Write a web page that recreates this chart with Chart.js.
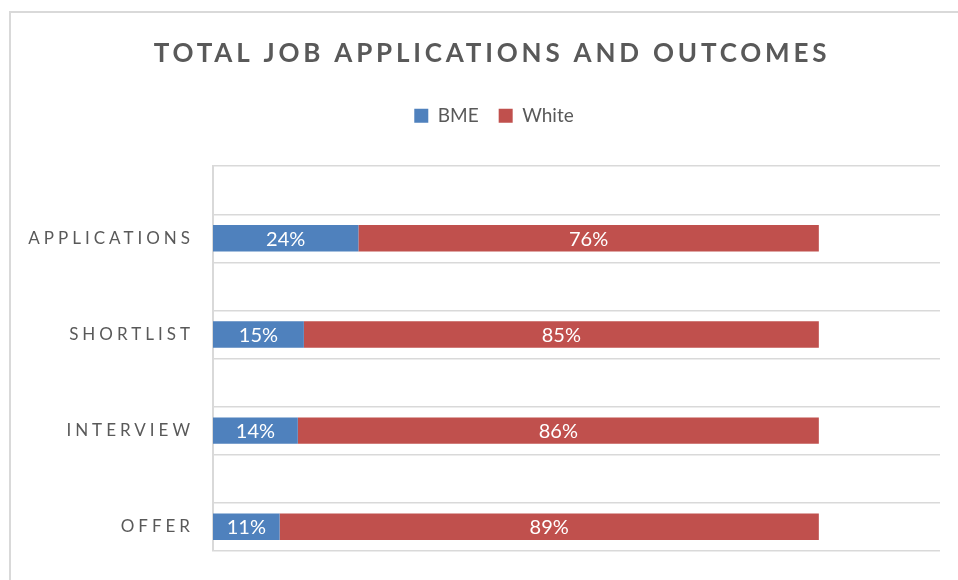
<!DOCTYPE html>
<html>
<head>
<meta charset="utf-8">
<script src="https://cdn.jsdelivr.net/npm/chart.js@4.4.1/dist/chart.umd.min.js"></script>
<style>
  html, body { margin: 0; padding: 0; background: #fff; }
</style>
</head>
<body>
<canvas id="outcomesChart" width="958" height="580"></canvas>
<script>
const STAGES = ["APPLICATIONS", "SHORTLIST", "INTERVIEW", "OFFER"];
const BME_SHARE = [24, 15, 14, 11];
const WHITE_SHARE = [76, 85, 86, 89];

const TEXT_GREY = "#595959";
const GRID_GREY = "#d9d9d9";
const FONT = "Lato";

// every stage sits below an empty spacer row, like the source sheet
const rowLabels = STAGES.flatMap((stage) => ["", stage]);
const withSpacers = (values) => values.flatMap((v) => [null, v]);

// canvas letterSpacing for one drawing method of a box/scale
function spaceOut(target, method, spacing) {
  if (!target || target["_spaced_" + method]) return;
  const original = target[method];
  target[method] = function (...args) {
    const ctx = this.ctx;
    const prev = ctx.letterSpacing;
    ctx.letterSpacing = spacing;
    original.apply(this, args);
    ctx.letterSpacing = prev;
  };
  target["_spaced_" + method] = true;
}

// extra blank room under the legend before the plot starts
function padBelow(box, extra) {
  if (!box || box._paddedBelow) return;
  const fit = box.fit;
  box.fit = function () {
    fit.call(this);
    this.height += extra;
  };
  box._paddedBelow = true;
}

// title and legend are centred on the whole frame, not on the plot column
function nudge(box, dx) {
  if (!box) return;
  box.left += dx;
  box.right += dx;
}

const frameAndLabels = {
  id: "frameAndLabels",
  beforeUpdate(chart) {
    padBelow(chart.legend, 31);
  },
  afterLayout(chart) {
    nudge(chart.titleBlock, 22);
    nudge(chart.legend, 24);
  },
  beforeDraw(chart) {
    const { ctx } = chart;
    ctx.save();
    ctx.strokeStyle = GRID_GREY;
    ctx.lineWidth = 2;
    ctx.strokeRect(10, 12, chart.width, chart.height);
    ctx.restore();

    spaceOut(chart.titleBlock, "draw", "3.8px");
    spaceOut(chart.scales.y, "drawLabels", "4px");
  },
  afterDatasetsDraw(chart) {
    const { ctx } = chart;
    ctx.save();
    ctx.fillStyle = "#ffffff";
    ctx.font = `20px ${FONT}`;
    ctx.textAlign = "center";
    ctx.textBaseline = "middle";
    chart.data.datasets.forEach((dataset, i) => {
      chart.getDatasetMeta(i).data.forEach((bar, j) => {
        const value = dataset.data[j];
        if (value == null) return;
        const { x, y, base } = bar.getProps(["x", "y", "base"], true);
        ctx.fillText(`${value}%`, (x + base) / 2, y + 1);
      });
    });
    ctx.restore();
  },
};

new Chart(document.getElementById("outcomesChart"), {
  type: "bar",
  data: {
    labels: rowLabels,
    datasets: [
      { label: "BME", data: withSpacers(BME_SHARE), backgroundColor: "#4f81bd" },
      { label: "White", data: withSpacers(WHITE_SHARE), backgroundColor: "#c0504d" },
    ],
  },
  options: {
    indexAxis: "y",
    responsive: false,
    animation: false,
    layout: { padding: { left: 0, right: 18, top: 0, bottom: 22 } },
    datasets: { bar: { categoryPercentage: 1, barPercentage: 0.55 } },
    plugins: {
      title: {
        display: true,
        text: "TOTAL JOB APPLICATIONS AND OUTCOMES",
        color: TEXT_GREY,
        font: { family: FONT, size: 26, weight: "bold" },
        padding: { top: 38, bottom: 17 },
      },
      legend: {
        labels: {
          color: TEXT_GREY,
          font: { family: FONT, size: 19 },
          boxWidth: 14,
          boxHeight: 14,
          padding: 20,
        },
      },
      tooltip: { enabled: false },
    },
    scales: {
      x: { stacked: true, display: false, min: 0, max: 120 },
      y: {
        stacked: true,
        grid: { color: GRID_GREY, lineWidth: 1.5, drawTicks: false, offset: true },
        border: { color: GRID_GREY, width: 2 },
        ticks: {
          color: TEXT_GREY,
          font: { family: FONT, size: 17 },
          padding: 19,
          autoSkip: false,
        },
        afterFit(scale) {
          scale.width = 213;
        },
      },
    },
  },
  plugins: [frameAndLabels],
});
</script>
</body>
</html>
